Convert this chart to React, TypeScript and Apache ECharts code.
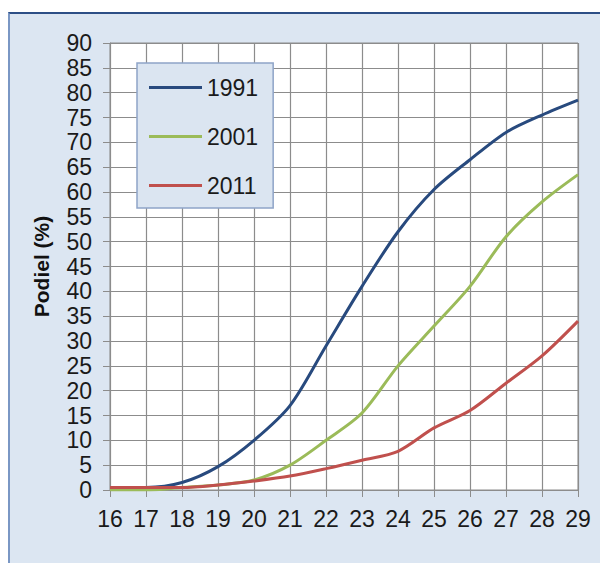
import React, { useEffect, useRef } from "react";
import * as echarts from "echarts";

const categories = ["16", "17", "18", "19", "20", "21", "22", "23", "24", "25", "26", "27", "28", "29"];
const seriesNames = ["1991", "2001", "2011"];
const values1991 = [0.5, 0.5, 1.5, 4.7, 10, 17, 29, 41, 52, 60.5, 66.5, 72, 75.5, 78.5];
const values2001 = [0, 0, 0.5, 1, 2, 5, 10, 15.5, 25, 33, 41, 51, 58, 63.5];
const values2011 = [0.5, 0.5, 0.5, 1, 1.8, 2.8, 4.3, 6, 7.8, 12.5, 16, 21.5, 27, 34];
const yAxisName = "Podiel (%)";

const FONT = "'Liberation Sans', Arial, sans-serif";

export default function App() {
  const ref = useRef<HTMLDivElement>(null);
  useEffect(() => {
    if (!ref.current) return;
    const chart = echarts.init(ref.current, null, { renderer: "svg" });
    const colors = ["#284a7e", "#9bbb59", "#c0504d"];
    const data = [values1991, values2001, values2011];
    chart.setOption({
      animation: false,
      textStyle: { fontFamily: FONT },
      grid: { left: 110, right: 22, top: 43, bottom: 73, backgroundColor: "#ffffff", show: true, borderColor: "#8c8c8c", borderWidth: 1 },
      legend: {
        orient: "vertical",
        left: 137,
        top: 63,
        padding: [13, 15, 11, 12],
        icon: "rect",
        itemWidth: 53,
        itemHeight: 3,
        itemGap: 26,
        backgroundColor: "#dbe5f1",
        borderColor: "#8ea4c8",
        borderWidth: 1.5,
        textStyle: { fontSize: 23, color: "#1a1a1a", fontFamily: FONT },
        data: seriesNames,
      },
      xAxis: {
        type: "category",
        data: categories,
        boundaryGap: false,
        axisLine: { show: true, lineStyle: { color: "#8c8c8c", width: 1 } },
        axisTick: { show: true, length: 7, lineStyle: { color: "#8c8c8c" } },
        splitLine: { show: true, lineStyle: { color: "#8c8c8c", width: 1.2 } },
        axisLabel: { interval: 0, fontSize: 23, color: "#1a1a1a", margin: 17, fontFamily: FONT },
      },
      yAxis: {
        type: "value",
        min: 0,
        max: 90,
        interval: 5,
        name: yAxisName,
        nameLocation: "middle",
        nameGap: 58,
        nameTextStyle: { fontSize: 21, fontWeight: "bold", color: "#111", fontFamily: FONT },
        axisLine: { show: true, lineStyle: { color: "#8c8c8c", width: 1 } },
        axisTick: { show: true, length: 7, lineStyle: { color: "#8c8c8c" } },
        splitLine: { show: true, lineStyle: { color: "#8c8c8c", width: 1.2 } },
        axisLabel: { fontSize: 23, color: "#1a1a1a", margin: 18, fontFamily: FONT },
      },
      series: seriesNames.map((name, i) => ({
        name,
        type: "line",
        data: data[i],
        smooth: 0.3,
        symbol: "none",
        color: colors[i],
        lineStyle: { width: 3, color: colors[i] },
      })),
    });
    return () => chart.dispose();
  }, []);
  return (
    <div style={{ position: "absolute", left: 0, top: 0, width: 600, height: 563, background: "#ffffff", overflow: "hidden" }}>
      <div
        style={{
          position: "absolute",
          left: 8,
          top: 12,
          width: 600,
          height: 560,
          background: "#dce6f2",
          borderTop: "2px solid #2d4f86",
          borderLeft: "2px solid #7a97c4",
        }}
      />
      <div ref={ref} style={{ position: "absolute", left: 0, top: 0, width: 600, height: 563 }} />
    </div>
  );
}
